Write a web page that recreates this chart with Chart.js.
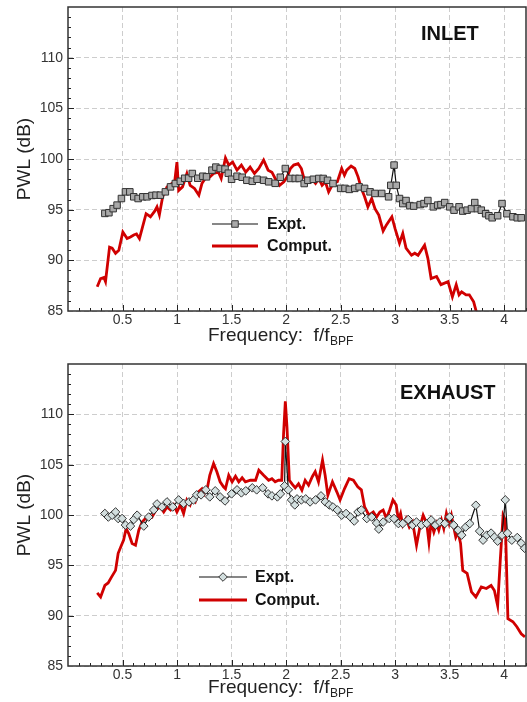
<!DOCTYPE html>
<html><head><meta charset="utf-8">
<script src="https://cdn.jsdelivr.net/npm/chart.js@4.4.1/dist/chart.umd.min.js"></script>
<style>
html,body{margin:0;padding:0;background:#fff;}
#w1{position:absolute;left:0;top:0;width:527px;height:345px;}
#w2{position:absolute;left:0;top:345px;width:527px;height:357px;}
</style></head><body>
<div id="w1"><canvas id="c1"></canvas></div>
<div id="w2"><canvas id="c2"></canvas></div>
<script>
// ---------- tick labels ----------
const xTicks = [0.5, 1, 1.5, 2, 2.5, 3, 3.5, 4];
const yTicks = [85, 90, 95, 100, 105, 110];

// ---------- INLET ----------
const inletExptX = [0.338,0.375,0.414,0.45,0.49,0.527,0.567,0.603,0.643,0.686,0.725,0.77,0.807,0.847,0.893,0.94,0.984,1.03,1.07,1.106,1.14,1.19,1.237,1.27,1.32,1.356,1.396,1.44,1.47,1.5,1.55,1.597,1.64,1.69,1.734,1.794,1.84,1.9,1.947,1.993,2.04,2.084,2.12,2.166,2.2,2.25,2.3,2.34,2.38,2.43,2.5,2.54,2.58,2.63,2.67,2.72,2.77,2.815,2.877,2.94,2.96,2.99,3.01,3.04,3.07,3.1,3.135,3.17,3.23,3.265,3.3,3.35,3.39,3.42,3.455,3.5,3.54,3.586,3.62,3.66,3.7,3.73,3.754,3.79,3.83,3.86,3.89,3.94,3.98,4.025,4.08,4.12,4.156];
const inletExptY = [94.63,94.7,95.1,95.45,96.1,96.76,96.76,96.27,96.1,96.27,96.27,96.4,96.43,96.43,96.76,97.25,97.58,97.8,98.1,98.1,98.57,98.1,98.3,98.24,98.9,99.2,99.06,99.0,98.6,98.0,98.3,98.2,97.9,97.8,98.0,97.9,97.75,97.6,98.2,99.06,98.08,98.08,98.08,97.58,97.9,98.0,98.08,98.08,97.9,97.58,97.1,97.1,97.0,97.1,97.25,97.1,96.76,96.6,96.6,96.27,97.4,99.4,97.4,96.1,95.6,95.9,95.4,95.35,95.5,95.6,95.9,95.28,95.45,95.5,95.7,95.28,94.95,95.28,94.86,94.95,95.1,95.7,95.1,94.95,94.6,94.4,94.2,94.4,95.6,94.6,94.3,94.2,94.2];
const inletCompX = [0.268,0.299,0.329,0.344,0.381,0.405,0.436,0.466,0.503,0.542,0.573,0.603,0.628,0.655,0.679,0.716,0.756,0.795,0.816,0.838,0.868,0.908,0.953,0.978,0.999,1.015,1.05,1.09,1.12,1.16,1.2,1.228,1.258,1.289,1.335,1.38,1.405,1.444,1.474,1.51,1.55,1.59,1.63,1.67,1.71,1.75,1.794,1.835,1.87,1.9,1.94,1.98,2.01,2.04,2.07,2.11,2.14,2.16,2.19,2.23,2.27,2.3,2.33,2.36,2.39,2.43,2.47,2.51,2.535,2.556,2.596,2.63,2.66,2.69,2.72,2.75,2.785,2.815,2.85,2.89,2.92,2.97,3.0,3.04,3.07,3.1,3.15,3.18,3.21,3.27,3.3,3.33,3.38,3.42,3.485,3.525,3.56,3.586,3.61,3.65,3.68,3.72,3.745];
const inletCompY = [87.4,88.2,88.3,87.9,91.3,91.2,90.7,91.0,92.8,92.15,92.3,92.5,92.6,92.15,93.1,94.6,94.3,94.85,95.28,94.5,96.27,97.25,97.6,97.75,99.7,96.9,97.25,98.57,97.4,97.1,96.43,97.58,98.08,98.1,98.57,98.7,98.08,100.1,99.4,99.7,98.9,99.4,98.7,99.2,98.57,99.06,99.9,98.9,98.7,98.08,97.4,97.75,98.24,99.06,99.4,99.55,99.06,98.24,97.9,98.08,97.58,98.08,97.4,97.75,96.76,97.58,97.75,99.06,98.4,98.9,99.3,99.06,98.24,97.1,96.27,95.28,96.1,95.1,94.46,92.9,93.5,94.3,93.1,91.7,92.65,91.2,90.5,90.7,90.5,91.5,90.2,88.2,88.4,87.6,87.9,86.4,87.6,86.6,86.9,86.6,86.6,85.9,84.9];

// ---------- EXHAUST ----------
const exhExptX = [0.338,0.37,0.405,0.436,0.46,0.496,0.527,0.573,0.603,0.634,0.695,0.74,0.786,0.816,0.862,0.908,0.96,1.015,1.06,1.11,1.15,1.18,1.22,1.264,1.3,1.35,1.395,1.44,1.5,1.55,1.59,1.63,1.69,1.73,1.785,1.835,1.87,1.92,1.947,1.986,1.993,2.02,2.05,2.08,2.1,2.14,2.18,2.22,2.27,2.32,2.36,2.395,2.43,2.47,2.51,2.55,2.59,2.625,2.66,2.69,2.74,2.785,2.83,2.85,2.89,2.946,2.99,3.03,3.07,3.12,3.16,3.196,3.24,3.29,3.33,3.37,3.41,3.455,3.5,3.537,3.577,3.61,3.647,3.684,3.74,3.775,3.806,3.84,3.88,3.91,3.94,3.98,4.01,4.03,4.07,4.12,4.156,4.187];
const exhExptY = [100.15,99.8,99.98,100.3,99.65,99.65,99.0,98.9,99.55,99.98,98.9,99.8,100.5,101.1,100.8,101.3,100.8,101.5,101.15,101.3,101.5,102.0,102.0,102.5,101.8,102.4,101.8,101.4,102.1,102.5,102.2,102.4,102.7,102.5,102.7,102.1,101.9,101.8,102.1,102.9,107.3,102.5,101.5,101.0,101.6,101.5,101.6,101.3,101.5,101.9,101.3,101.0,100.8,100.5,99.98,100.15,99.8,99.4,100.3,100.5,99.65,99.8,99.2,98.6,99.3,99.65,99.65,99.15,99.15,99.55,99.0,99.3,99.0,99.15,99.5,99.0,99.3,99.15,99.8,99.0,98.5,98.0,98.8,99.15,100.97,98.4,97.5,98.0,98.2,97.8,97.4,98.0,101.5,98.2,97.5,97.76,97.2,96.7];
const exhCompX = [0.268,0.299,0.338,0.368,0.4,0.436,0.46,0.49,0.51,0.533,0.557,0.588,0.619,0.649,0.68,0.71,0.74,0.77,0.807,0.847,0.878,0.908,0.94,0.969,0.999,1.03,1.06,1.09,1.12,1.14,1.167,1.197,1.228,1.25,1.28,1.3,1.335,1.365,1.395,1.426,1.444,1.474,1.505,1.536,1.566,1.597,1.627,1.673,1.72,1.75,1.794,1.84,1.87,1.9,1.93,1.96,1.977,1.993,2.008,2.03,2.054,2.084,2.114,2.145,2.175,2.206,2.24,2.267,2.297,2.334,2.358,2.383,2.425,2.465,2.495,2.535,2.578,2.617,2.657,2.69,2.72,2.76,2.8,2.83,2.86,2.89,2.92,2.95,2.98,3.01,3.03,3.05,3.07,3.1,3.13,3.16,3.196,3.227,3.257,3.29,3.31,3.33,3.355,3.38,3.4,3.425,3.446,3.47,3.495,3.516,3.537,3.556,3.577,3.6,3.62,3.66,3.7,3.74,3.79,3.836,3.88,3.91,3.94,3.964,3.99,4.01,4.034,4.08,4.116,4.156,4.19];
const exhCompY = [92.26,91.86,93.0,93.25,93.85,94.5,96.2,97.0,97.5,98.66,98.16,97.17,97.0,98.5,99.3,99.65,99.98,99.8,100.5,100.8,100.3,100.8,100.5,101.0,100.3,101.0,100.15,101.5,101.0,101.6,101.3,102.3,102.6,102.1,102.8,103.95,105.1,104.3,103.3,102.8,102.6,103.95,103.3,103.85,103.3,103.7,103.3,103.45,103.45,104.45,103.95,103.45,103.6,103.3,103.45,103.45,108.1,111.3,108.75,103.45,103.1,102.7,103.1,102.46,103.45,102.96,103.8,104.3,103.3,105.45,103.95,101.97,103.3,102.3,101.5,102.6,103.6,103.45,102.8,102.5,100.8,99.98,100.3,99.8,100.3,100.5,99.65,100.5,101.5,101.0,99.5,100.15,99.0,99.65,98.8,99.3,97.0,98.8,99.98,99.15,97.3,99.3,98.3,99.15,98.5,99.5,98.66,100.15,99.15,99.98,98.8,97.8,98.3,97.17,94.5,94.2,92.36,91.86,92.85,92.7,93.0,92.5,91.0,95.5,99.98,99.5,89.7,89.4,88.9,88.2,87.9];

const FONT = '"Liberation Sans", Arial, sans-serif';
const pts = (xs, ys) => xs.map((x, i) => ({x: x, y: ys[i]}));

const decorPlugin = {
  id: 'decor',
  afterDatasetsDraw(chart) {
    const {ctx, chartArea: a, scales: {x, y}} = chart;
    ctx.save();
    ctx.strokeStyle = '#222';
    ctx.lineWidth = 1;
    ctx.beginPath();
    for (let i = 1; i <= 42; i++) {
      const v = i / 10;
      const px = Math.round(x.getPixelForValue(v)) + 0.5;
      const len = (i % 5 === 0) ? 6 : 3;
      ctx.moveTo(px, a.bottom); ctx.lineTo(px, a.bottom - len);
    }
    for (let v = 86; v < 115; v++) {
      const py = Math.round(y.getPixelForValue(v)) + 0.5;
      const len = (v % 5 === 0) ? 6 : 3;
      ctx.moveTo(a.left, py); ctx.lineTo(a.left + len, py);
    }
    ctx.stroke();
    ctx.lineWidth = 1.5;
    ctx.strokeStyle = '#333';
    ctx.strokeRect(a.left, a.top, a.right - a.left, a.bottom - a.top);
    ctx.restore();
  },
  afterDraw(chart, args, o) {
    const {ctx, chartArea: a} = chart;
    ctx.save();
    ctx.fillStyle = '#222';
    ctx.font = '19px ' + FONT;
    ctx.textAlign = 'center';
    ctx.textBaseline = 'middle';
    ctx.translate(25, (a.top + a.bottom) / 2);
    ctx.rotate(-Math.PI / 2);
    ctx.fillText('PWL (dB)', 0, 0);
    ctx.setTransform(1, 0, 0, 1, 0, 0);
    ctx.textAlign = 'left';
    ctx.textBaseline = 'alphabetic';
    ctx.font = '19px ' + FONT;
    const ty = a.bottom + o.xTitleDy;
    const main = 'Frequency:  f/f';
    ctx.fillText(main, 208, ty);
    const w = ctx.measureText(main).width;
    ctx.font = '12px ' + FONT;
    ctx.fillText('BPF', 208 + w + 0.5, ty + 4);
    ctx.textBaseline = 'middle';
    ctx.font = 'bold 20px ' + FONT;
    ctx.fillStyle = '#111';
    ctx.fillText(o.label, o.labelX, o.labelY);
    const L = o.legend;
    const ds = chart.data.datasets;
    ctx.lineWidth = ds[0].borderWidth;
    ctx.strokeStyle = ds[0].borderColor;
    ctx.beginPath(); ctx.moveTo(L.x1, L.y1); ctx.lineTo(L.x2, L.y1); ctx.stroke();
    ctx.fillStyle = ds[0].pointBackgroundColor;
    ctx.strokeStyle = ds[0].pointBorderColor;
    ctx.lineWidth = 1;
    Chart.helpers.drawPoint(ctx, {pointStyle: ds[0].pointStyle, radius: ds[0].pointRadius, rotation: 0, borderWidth: 1}, (L.x1 + L.x2) / 2, L.y1);
    ctx.lineWidth = ds[1].borderWidth;
    ctx.strokeStyle = ds[1].borderColor;
    ctx.beginPath(); ctx.moveTo(L.x1, L.y2); ctx.lineTo(L.x2, L.y2); ctx.stroke();
    ctx.fillStyle = '#111';
    ctx.font = 'bold 16px ' + FONT;
    ctx.fillText(ds[0].label, L.tx, L.y1 + 1);
    ctx.fillText(ds[1].label, L.tx, L.y2 + 1);
    ctx.restore();
  }
};

function makeChart(id, exptPts, compPts, style, padTop, xH, decor) {
  return new Chart(document.getElementById(id), {
    type: 'scatter',
    data: {
      datasets: [
        Object.assign({label: 'Expt.', data: exptPts, showLine: true, borderColor: '#111', borderWidth: 1.2,
          pointBorderColor: '#333', pointBorderWidth: 1, pointHoverRadius: 0, order: 0}, style),
        {label: 'Comput.', data: compPts, showLine: true, borderColor: '#d00000', borderWidth: 2.8,
          pointRadius: 0, pointHoverRadius: 0, order: 1, tension: 0}
      ]
    },
    options: {
      responsive: true, maintainAspectRatio: false, animation: false,
      layout: {autoPadding: false, padding: {top: padTop, right: 1, left: 0, bottom: 0}},
      plugins: {legend: {display: false}, tooltip: {enabled: false}, decor: decor},
      scales: {
        x: {type: 'linear', min: 0, max: 4.2,
          afterBuildTicks: s => { s.ticks = xTicks.map(v => ({value: v})); },
          afterFit: s => { s.height = xH; s.paddingLeft = 0; s.paddingRight = 0; },
          ticks: {font: {family: FONT, size: 14}, color: '#333', padding: 1, maxRotation: 0, autoSkip: false,
            callback: v => String(v)},
          grid: {color: '#cdcdcd', drawTicks: false, lineWidth: 1},
          border: {display: false, dash: [5, 3]}},
        y: {type: 'linear', min: 85, max: 115,
          afterBuildTicks: s => { s.ticks = yTicks.map(v => ({value: v})); },
          afterFit: s => { s.width = 68; s.paddingTop = 0; s.paddingBottom = 0; },
          ticks: {font: {family: FONT, size: 14}, color: '#333', padding: 5, autoSkip: false,
            callback: v => String(v)},
          grid: {color: '#cdcdcd', drawTicks: false, lineWidth: 1},
          border: {display: false, dash: [5, 3]}}
      }
    },
    plugins: [decorPlugin]
  });
}

makeChart('c1', pts(inletExptX, inletExptY), pts(inletCompX, inletCompY),
  {pointStyle: 'rect', pointRadius: 4.6, pointBackgroundColor: '#a9a9a9'}, 7, 34,
  {label: 'INLET', labelX: 421, labelY: 34, xTitleDy: 30,
   legend: {x1: 212, x2: 258, y1: 224, y2: 246, tx: 267}});

makeChart('c2', pts(exhExptX, exhExptY), pts(exhCompX, exhCompY),
  {pointStyle: 'rectRot', pointRadius: 4.3, pointBackgroundColor: '#d3dfdf'}, 19, 36,
  {label: 'EXHAUST', labelX: 400, labelY: 48, xTitleDy: 27,
   legend: {x1: 199, x2: 247, y1: 232, y2: 255, tx: 255}});
</script>
</body></html>
